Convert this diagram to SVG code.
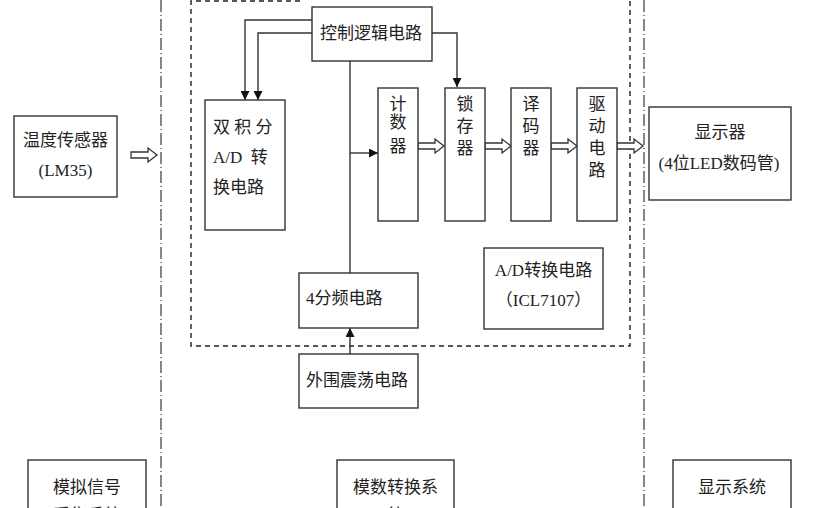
<svg xmlns="http://www.w3.org/2000/svg" width="814" height="508" viewBox="0 0 814 508">
<style>
.bx{fill:#fff;stroke:#333;stroke-width:1.4}
.t{font-family:"Liberation Serif","Noto Sans CJK SC",serif;font-size:17px;fill:#222}
.c{text-anchor:middle}
.ln{fill:none;stroke:#333;stroke-width:1.4}
.dd{fill:none;stroke:#555;stroke-width:1.4;stroke-dasharray:12 3 1 3}
.ds{fill:none;stroke:#222;stroke-width:1.4;stroke-dasharray:5 4}
.ha{fill:#fff;stroke:#333;stroke-width:1.3}
</style>
<defs>
<marker id="ar" viewBox="0 0 10 10" refX="10" refY="5" markerWidth="9" markerHeight="9" markerUnits="userSpaceOnUse" orient="auto"><path d="M0,0 L10,5 L0,10 Z" fill="#111"/></marker>
<path id="ha" d="M0,-3 H17 V-7 L26,0 L17,7 V3 H0 Z"/>
</defs>
<rect width="814" height="508" fill="#fff"/>
<g id="frames">
<line class="dd" x1="161" y1="0" x2="161" y2="508"/>
<line class="dd" x1="644" y1="0" x2="644" y2="508"/>
<path class="ds" d="M300,1 H191 V346 H630 V0"/>
</g>
<g id="connectors">
<path class="ln" d="M312,20 H245 V100" marker-start="url(#ar)" marker-end="url(#ar)"/>
<path class="ln" d="M312,33 H258 V100" marker-start="url(#ar)" marker-end="url(#ar)"/>
<path class="ln" d="M432,33 H457 V87" marker-end="url(#ar)"/>
<path class="ln" d="M350,61 V273"/>
<path class="ln" d="M350,153 H378" marker-end="url(#ar)"/>
<path class="ln" d="M350,354 V328" marker-end="url(#ar)"/>
<use href="#ha" class="ha" transform="translate(131,155)"/>
<use href="#ha" class="ha" transform="translate(418,146)"/>
<use href="#ha" class="ha" transform="translate(485,146)"/>
<use href="#ha" class="ha" transform="translate(551,146)"/>
<use href="#ha" class="ha" transform="translate(617,146)"/>
</g>
<g id="sensor">
<rect class="bx" x="14" y="116" width="103" height="81"/>
<text class="t c" x="65.5" y="146">温度传感器</text>
<text class="t c" x="65.5" y="176">(LM35)</text>
</g>
<g id="dual-slope">
<rect class="bx" x="205" y="100" width="80" height="130"/>
<text class="t" x="213" y="133" xml:space="preserve">双 积 分</text>
<text class="t" x="213" y="163" xml:space="preserve">A/D  转</text>
<text class="t" x="213" y="193">换电路</text>
</g>
<g id="control">
<rect class="bx" x="312" y="7" width="120" height="54"/>
<text class="t" x="320" y="39">控制逻辑电路</text>
</g>
<g id="counter">
<rect class="bx" x="378" y="88" width="40" height="133"/>
<text class="t c" x="398" y="110">计</text>
<text class="t c" x="398" y="128">数</text>
<text class="t c" x="398" y="152">器</text>
</g>
<g id="latch">
<rect class="bx" x="445" y="88" width="40" height="133"/>
<text class="t c" x="465" y="110">锁</text>
<text class="t c" x="465" y="132">存</text>
<text class="t c" x="465" y="154">器</text>
</g>
<g id="decoder">
<rect class="bx" x="511" y="88" width="40" height="133"/>
<text class="t c" x="531" y="110">译</text>
<text class="t c" x="531" y="132">码</text>
<text class="t c" x="531" y="154">器</text>
</g>
<g id="driver">
<rect class="bx" x="577" y="88" width="40" height="133"/>
<text class="t c" x="597" y="110">驱</text>
<text class="t c" x="597" y="132">动</text>
<text class="t c" x="597" y="154">电</text>
<text class="t c" x="597" y="176">路</text>
</g>
<g id="display">
<rect class="bx" x="649" y="107" width="142" height="93"/>
<text class="t c" x="720" y="138">显示器</text>
<text class="t c" x="719" y="169">(4位LED数码管)</text>
</g>
<g id="divider">
<rect class="bx" x="299" y="273" width="119" height="55"/>
<text class="t" x="306" y="304">4分频电路</text>
</g>
<g id="oscillator">
<rect class="bx" x="299" y="354" width="119" height="54"/>
<text class="t" x="306" y="386">外围震荡电路</text>
</g>
<g id="adc">
<rect class="bx" x="484" y="248" width="119" height="81"/>
<text class="t c" x="543.5" y="276">A/D转换电路</text>
<text class="t c" x="543.5" y="306">（ICL7107）</text>
</g>
<g id="analog-sys">
<rect class="bx" x="28" y="460" width="118" height="60"/>
<text class="t c" x="87" y="493">模拟信号</text>
<text class="t c" x="87" y="521">采集系统</text>
</g>
<g id="adc-sys">
<rect class="bx" x="337" y="460" width="117" height="60"/>
<text class="t c" x="395.5" y="493">模数转换系</text>
<text class="t c" x="395.5" y="521">统</text>
</g>
<g id="display-sys">
<rect class="bx" x="673" y="460" width="118" height="60"/>
<text class="t c" x="732" y="493">显示系统</text>
</g>
</svg>
